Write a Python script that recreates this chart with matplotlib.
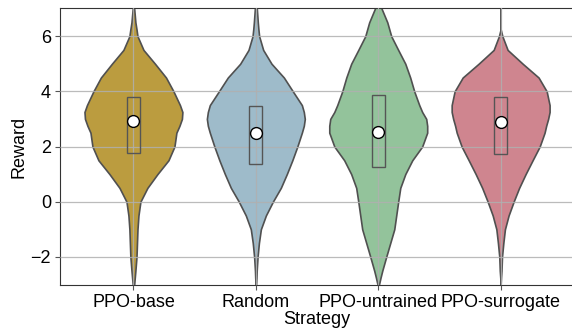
import numpy as np
import matplotlib
matplotlib.use("Agg")
import matplotlib.pyplot as plt
from matplotlib.patches import Rectangle

plt.rcParams['font.family'] = ['Liberation Sans', 'DejaVu Sans']

strategies = ['PPO-base', 'Random', 'PPO-untrained', 'PPO-surrogate']
colors = ['#BB9C3F', '#9EBBCA', '#93C39B', '#CF858F']

reward_grid = [7.2, 7.0, 6.5, 6.25, 6.0, 5.5, 5.0, 4.5, 4.0, 3.5, 3.25, 3.0, 2.75,
               2.5, 2.0, 1.5, 1.0, 0.5, 0.0, -0.5, -1.0, -1.5, -2.0, -2.5, -2.75,
               -3.0, -3.2]

# half widths of each violin (x units) at the reward levels above
hw_base = [0, .006, .016, .025, .033, .082, .176, .266, .327, .380, .400, .396, .376,
           .351, .335, .286, .196, .114, .057, .041, .033, .029, .025, .016, .011,
           .006, 0]
hw_random = [0, .008, .016, .021, .027, .060, .128, .229, .302, .376, .392, .400, .392,
             .376, .339, .298, .253, .204, .139, .082, .041, .025, .014, .007, .005,
             .002, 0]
hw_untrained = [.016, .027, .074, .090, .106, .163, .221, .261, .294, .335, .359, .392, .400,
                .400, .359, .278, .221, .180, .163, .147, .131, .098, .065, .033, .019,
                .006, 0]
hw_surrogate = [0, 0, 0, 0, .014, .057, .180, .310, .376, .400, .400, .388, .372,
                .359, .319, .261, .204, .151, .106, .065, .035, .022, .011, .007, .003,
                0, 0]
half_widths = [hw_base, hw_random, hw_untrained, hw_surrogate]

q1 = [1.76, 1.37, 1.25, 1.72]
medians = [2.92, 2.48, 2.51, 2.90]
q3 = [3.78, 3.47, 3.87, 3.81]

fig = plt.figure(figsize=(5.72, 3.32), dpi=100)
ax = fig.add_axes([60/572, 1-285/332, 4.2*122.4/572, 277/332])

y = np.array(reward_grid)
for i, hw in enumerate(half_widths):
    hw = np.array(hw)
    ax.fill_betweenx(y, i - hw, i + hw, facecolor=colors[i], edgecolor='#505050',
                     linewidth=1.2, zorder=1)
    ax.add_patch(Rectangle((i - 0.052, q1[i]), 0.104, q3[i] - q1[i], fill=False,
                           edgecolor='#555555', linewidth=1.0, zorder=3))
    ax.plot(i, medians[i], 'o', markersize=8.5, markerfacecolor='white',
            markeredgecolor='black', markeredgewidth=1.0, zorder=4)

ax.set_xlim(-0.6, 3.6)
ax.set_ylim(-3.02, 7.02)
ax.set_xticks(range(4))
ax.set_xticklabels(strategies)
ax.set_yticks([-2, 0, 2, 4, 6])
ax.grid(True, color='#b0b0b0', linewidth=0.9, alpha=0.85)
ax.set_axisbelow(False)
for ln in ax.get_xgridlines() + ax.get_ygridlines():
    ln.set_zorder(2)
ax.tick_params(labelsize=13, length=3.5, color='#555555', pad=3)
ax.set_xlabel('Strategy', fontsize=13, labelpad=0)
ax.set_ylabel('Reward', fontsize=13, labelpad=2)
for s in ax.spines.values():
    s.set_color('#333333')

fig.savefig('out.png', dpi=100)
